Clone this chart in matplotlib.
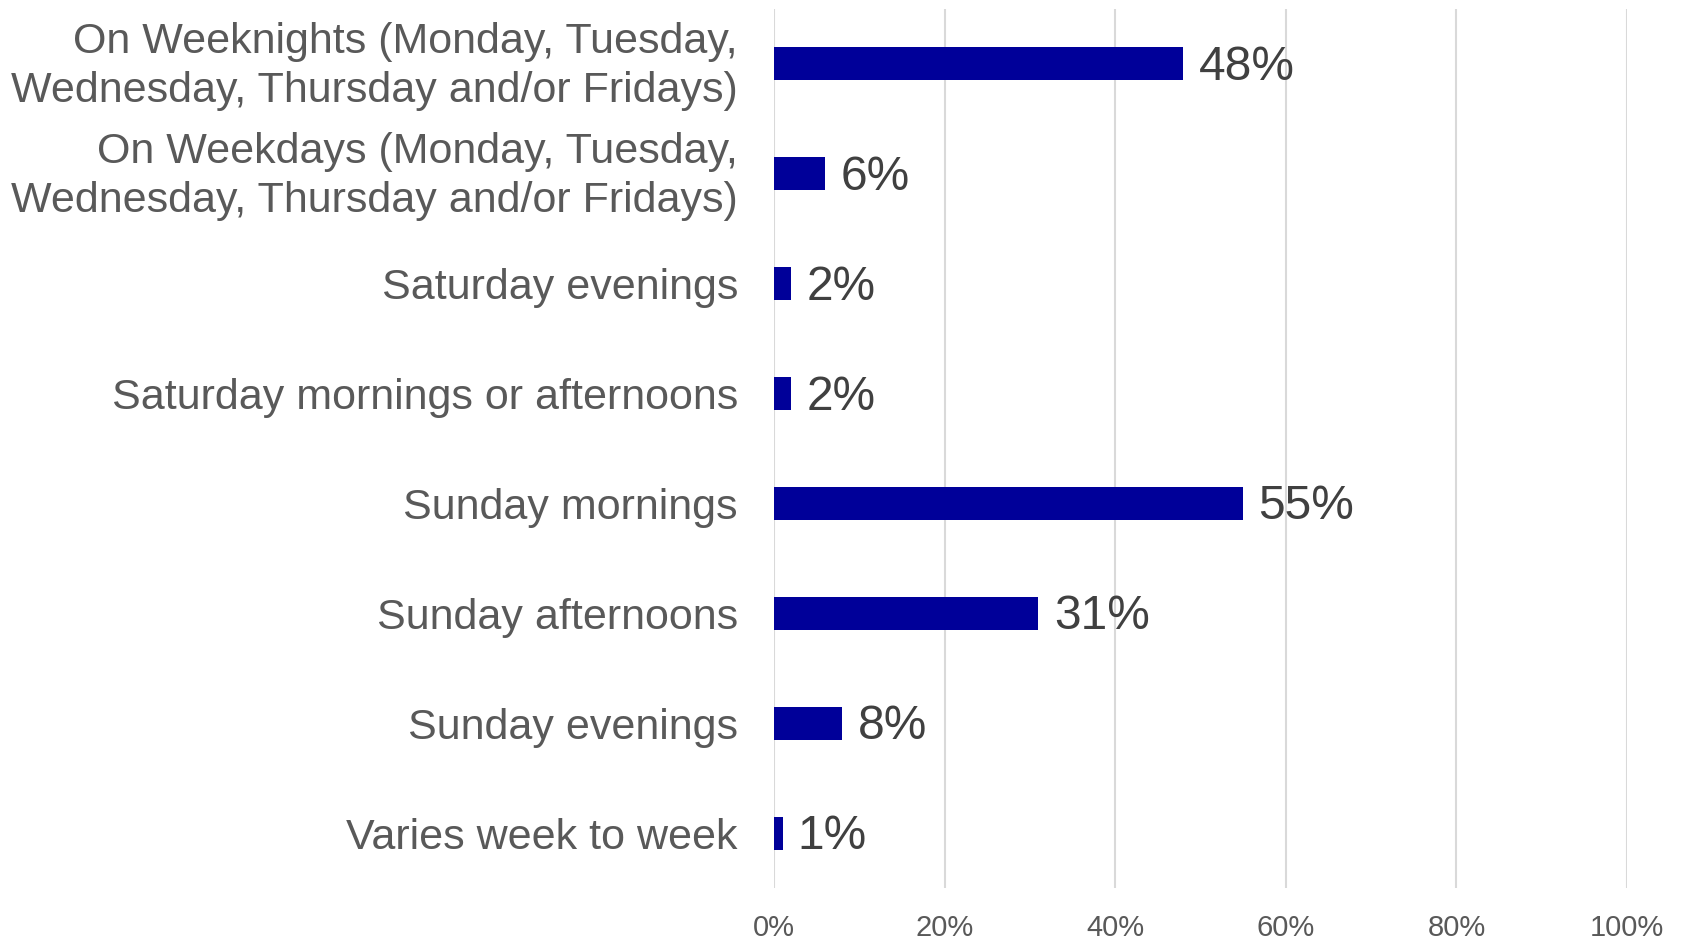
import matplotlib
matplotlib.use("Agg")
import matplotlib.pyplot as plt
from matplotlib.ticker import FuncFormatter

plt.rcParams['font.family'] = ['Liberation Sans', 'DejaVu Sans']

categories = [
    "On Weeknights (Monday, Tuesday,\nWednesday, Thursday and/or Fridays)",
    "On Weekdays (Monday, Tuesday,\nWednesday, Thursday and/or Fridays)",
    "Saturday evenings",
    "Saturday mornings or afternoons",
    "Sunday mornings",
    "Sunday afternoons",
    "Sunday evenings",
    "Varies week to week",
]
values = [48, 6, 2, 2, 55, 31, 8, 1]
x_ticks = [0, 20, 40, 60, 80, 100]

BAR_COLOR = "#000099"
GRID_COLOR = "#D9D9D9"
LABEL_COLOR = "#595959"
VALUE_COLOR = "#404040"

fig = plt.figure(figsize=(16.82, 9.40), dpi=100)
ax = fig.add_axes([0.4602, 0.0553, 0.5071, 0.9351])

ypos = list(range(len(categories)))
ax.barh(ypos, values, height=0.3, color=BAR_COLOR, zorder=3)

for y, v in zip(ypos, values):
    ax.annotate(f"{v}%", xy=(v, y), xytext=(11, -2.5), textcoords="offset points",
                ha="left", va="center", fontsize=34.5, color=VALUE_COLOR, zorder=4)

# category labels, right-aligned just left of the value axis
for y, name in zip(ypos, categories):
    two_line = "\n" in name
    ax.annotate(name, xy=(0, y), xycoords=("axes fraction", "data"),
                xytext=(-26, -2 if two_line else 0), textcoords="offset points",
                ha="right", va="center" if two_line else "center_baseline",
                multialignment="right", fontsize=31, color=LABEL_COLOR,
                linespacing=1.3, annotation_clip=False)

ax.set_xlim(0, 100)
ax.set_ylim(len(categories) - 0.5, -0.5)
ax.set_xticks(x_ticks)
ax.xaxis.set_major_formatter(FuncFormatter(lambda v, _: f"{v:.0f}%"))
ax.set_yticks([])

ax.tick_params(axis="x", length=0, pad=18.5, labelsize=21, labelcolor=LABEL_COLOR)

ax.grid(axis="x", color=GRID_COLOR, linewidth=1.5, zorder=0)
for side in ["top", "right", "bottom", "left"]:
    ax.spines[side].set_visible(False)

fig.savefig("out.png", dpi=100)
